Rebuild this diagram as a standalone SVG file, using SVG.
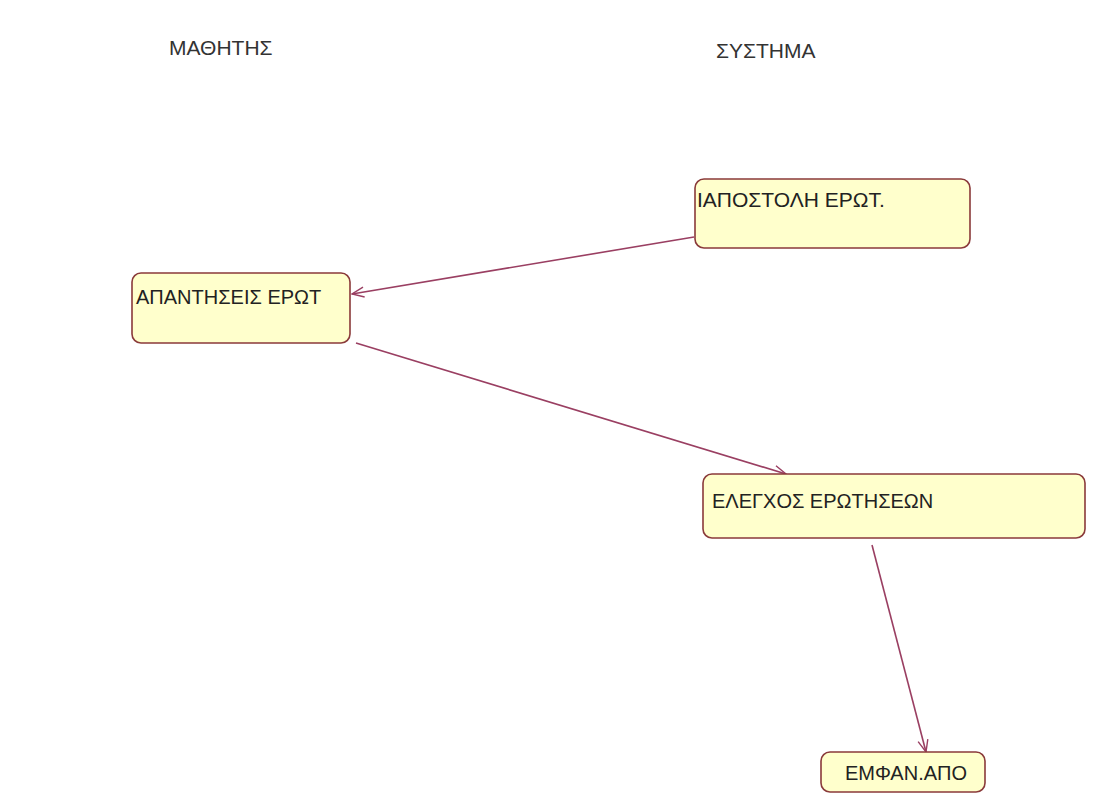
<svg xmlns="http://www.w3.org/2000/svg" width="1105" height="803" viewBox="0 0 1105 803">
  <style>
    .title { font-family: "Liberation Sans", Arial, sans-serif; font-size: 21px; fill: #333; }
    .state rect { fill: #ffffcc; stroke: #8a3a3a; stroke-width: 1.6; }
    .state text { font-family: "Liberation Sans", Arial, sans-serif; font-size: 20px; fill: #222; }
    .conn { stroke: #9a3f62; stroke-width: 1.6; fill: none; }
  </style>
  <defs>
    <marker id="open" viewBox="0 0 14 12" refX="13" refY="6" markerWidth="14" markerHeight="12" markerUnits="userSpaceOnUse" orient="auto">
      <path d="M1,1 L13,6 L1,11" fill="none" stroke="#9a3f62" stroke-width="1.4"/>
    </marker>
  </defs>
  <rect width="1105" height="803" fill="#ffffff"/>

  <text class="title" x="169" y="55">ΜΑΘΗΤΗΣ</text>
  <text class="title" x="716" y="58">ΣΥΣΤΗΜΑ</text>

  <g id="connectors">
    <line class="conn" x1="694" y1="237" x2="352" y2="294" marker-end="url(#open)"/>
    <line class="conn" x1="356" y1="343" x2="786" y2="474" marker-end="url(#open)"/>
    <line class="conn" x1="872" y1="545" x2="926" y2="752" marker-end="url(#open)"/>
  </g>

  <g id="apostoli" class="state">
    <rect x="695" y="179" width="275" height="69" rx="9"/>
    <text x="697" y="207" style="font-size:21px">ΙΑΠΟΣΤΟΛΗ ΕΡΩΤ.</text>
  </g>
  <g id="apantiseis" class="state">
    <rect x="132" y="273" width="218" height="70" rx="9"/>
    <text x="136" y="304">ΑΠΑΝΤΗΣΕΙΣ ΕΡΩΤ</text>
  </g>
  <g id="elegxos" class="state">
    <rect x="703" y="474" width="382" height="64" rx="9"/>
    <text x="712" y="508">ΕΛΕΓΧΟΣ ΕΡΩΤΗΣΕΩΝ</text>
  </g>
  <g id="emfan" class="state">
    <rect x="821" y="752" width="164" height="40" rx="9"/>
    <text x="906" y="780" text-anchor="middle">ΕΜΦΑΝ.ΑΠΟ</text>
  </g>
</svg>
